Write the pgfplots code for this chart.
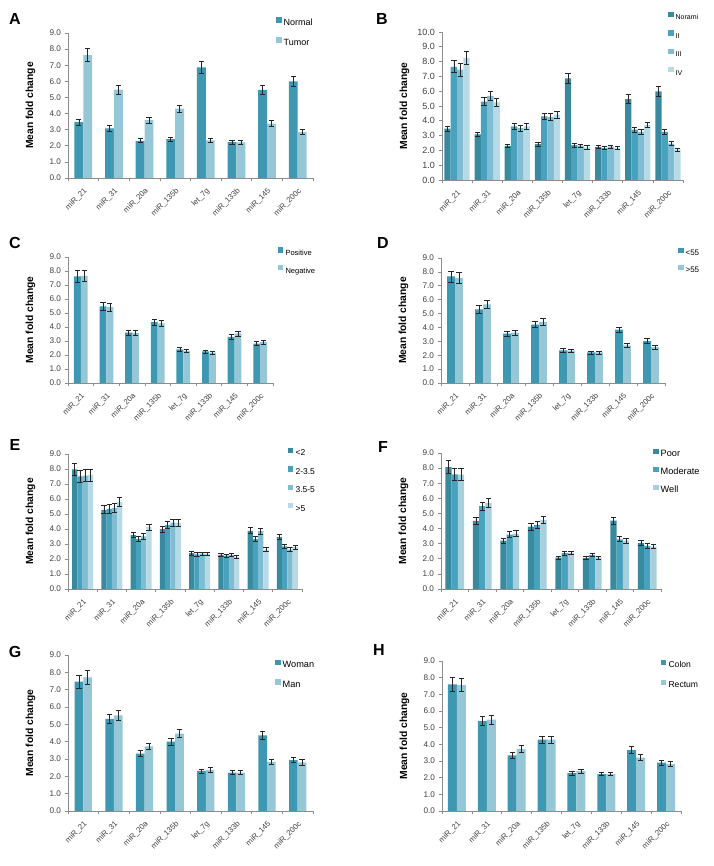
\documentclass[border=0pt]{standalone}
\usepackage{fontspec}
\setmainfont{Liberation Sans}
\usepackage{pgfplots}
\pgfplotsset{compat=1.18}
\definecolor{axgray}{HTML}{8C8C8C}
\definecolor{txgray}{HTML}{404040}
\definecolor{errc}{HTML}{262626}
\definecolor{tA}{HTML}{3F98B1}
\definecolor{tB}{HTML}{95C7D7}
\definecolor{q1}{HTML}{3A8A9F}
\definecolor{q2}{HTML}{48A2BD}
\definecolor{q3}{HTML}{80BDD2}
\definecolor{q4}{HTML}{B6DAE6}
\definecolor{w3}{HTML}{A6D0DE}
\newcommand{\fs}[1]{\fontsize{#1}{#1}\selectfont}
\pgfplotsset{
 panel/.style={
   scale only axis, ybar=0pt, ymin=0, xmin=-0.5, xmax=7.5,
   axis x line*=bottom, axis y line*=left,
   axis line style={draw=axgray, line width=0.7pt},
   tick align=outside, major tick length=3.5pt,
   tick style={draw=axgray, line width=0.7pt},
   xtick={-0.5,0.5,1.5,2.5,3.5,4.5,5.5,6.5,7.5},
   x tick label as interval,
   xticklabels={miR\_21,miR\_31,miR\_20a,miR\_135b,let\_7g,miR\_133b,miR\_145,miR\_200c},
   xticklabel style={xshift=3pt, yshift=-8pt, rotate=45, anchor=east, inner sep=0.5pt, font=\fs{7.8}, text=txgray},
   ytick distance=1,
   /pgf/number format/assume math mode=true,
   yticklabel style={/pgf/number format/.cd, fixed, fixed zerofill, precision=1, /tikz/.cd, font=\fs{8.2}, text=txgray},
   ylabel={Mean fold change},
   every axis y label/.style={at={(axis description cs:0,0.5)}, rotate=90, anchor=south, yshift=32.5pt, inner sep=0pt, font=\bfseries\fs{10.3}},
   legend image code/.code={\fill[##1] (0pt,0pt) rectangle (5.5pt,5.5pt);},
   legend cell align=left,
   legend style={draw=none, fill=none, inner sep=0pt, outer sep=0pt, anchor=west,
     nodes={inner sep=0.6pt, text height=0.72em, text depth=0.2em},
     /tikz/every odd column/.append style={column sep=1.5pt}},
   error bars/y dir=both, error bars/y explicit,
   error bars/error bar style={draw=errc, line width=0.7pt},
   error bars/error mark options={draw=errc, line width=0.7pt, mark size=2.6pt, rotate=90},
 }
}
\begin{document}
\begin{tikzpicture}
\useasboundingbox (0pt,0pt) rectangle (713pt,866pt);
% ---------------- A
\begin{axis}[panel, at={(68pt,688pt)}, anchor=south west, width=245pt, height=145pt, ymax=9, bar width=0.29,
  legend style={at={(axis description cs:0.849,1.003)}, font=\fs{9}, row sep=9.5pt}]
\addplot[fill=tA, draw=none] coordinates {(0,3.47)+-(0,0.18) (1,3.08)+-(0,0.16) (2,2.31)+-(0,0.12) (3,2.42)+-(0,0.13) (4,6.86)+-(0,0.36) (5,2.23)+-(0,0.12) (6,5.47)+-(0,0.29) (7,5.99)+-(0,0.31)};
\addplot[fill=tB, draw=none] coordinates {(0,7.63)+-(0,0.4) (1,5.48)+-(0,0.28) (2,3.6)+-(0,0.19) (3,4.3)+-(0,0.22) (4,2.33)+-(0,0.12) (5,2.21)+-(0,0.12) (6,3.37)+-(0,0.18) (7,2.85)+-(0,0.15)};
\legend{Normal,Tumor}
\end{axis}
% ---------------- B
\begin{axis}[panel, at={(442pt,686pt)}, anchor=south west, width=241pt, height=148pt, ymax=10, bar width=0.21,
  yticklabel style={font=\fs{9}},
  legend style={at={(axis description cs:0.938,0.914)}, font=\fs{7}, row sep=7.7pt}]
\addplot[fill=q1, draw=none] coordinates {(0,3.47)+-(0,0.18) (1,3.08)+-(0,0.16) (2,2.31)+-(0,0.12) (3,2.42)+-(0,0.13) (4,6.86)+-(0,0.36) (5,2.23)+-(0,0.12) (6,5.47)+-(0,0.29) (7,5.99)+-(0,0.31)};
\addplot[fill=q2, draw=none] coordinates {(0,7.65)+-(0,0.4) (1,5.3)+-(0,0.28) (2,3.62)+-(0,0.19) (3,4.3)+-(0,0.22) (4,2.35)+-(0,0.12) (5,2.15)+-(0,0.11) (6,3.4)+-(0,0.18) (7,3.25)+-(0,0.17)};
\addplot[fill=q3, draw=none] coordinates {(0,7.45)+-(0,0.45) (1,5.68)+-(0,0.29) (2,3.5)+-(0,0.18) (3,4.25)+-(0,0.22) (4,2.32)+-(0,0.12) (5,2.25)+-(0,0.11) (6,3.25)+-(0,0.17) (7,2.45)+-(0,0.13)};
\addplot[fill=q4, draw=none] coordinates {(0,8.25)+-(0,0.43) (1,5.25)+-(0,0.28) (2,3.62)+-(0,0.2) (3,4.42)+-(0,0.23) (4,2.2)+-(0,0.12) (5,2.15)+-(0,0.11) (6,3.72)+-(0,0.19) (7,2.05)+-(0,0.1)};
\legend{Norami,II,III,IV}
\end{axis}
% ---------------- C
\begin{axis}[panel, at={(68pt,483pt)}, anchor=south west, width=205pt, height=126pt, ymax=9, bar width=0.27,
  legend style={at={(axis description cs:1.024,0.964)}, font=\fs{7.5}, row sep=6.9pt}]
\addplot[fill=tA, draw=none] coordinates {(0,7.62)+-(0,0.4) (1,5.48)+-(0,0.28) (2,3.6)+-(0,0.19) (3,4.35)+-(0,0.22) (4,2.4)+-(0,0.12) (5,2.25)+-(0,0.11) (6,3.3)+-(0,0.17) (7,2.82)+-(0,0.15)};
\addplot[fill=tB, draw=none] coordinates {(0,7.65)+-(0,0.4) (1,5.42)+-(0,0.28) (2,3.58)+-(0,0.19) (3,4.25)+-(0,0.22) (4,2.28)+-(0,0.12) (5,2.17)+-(0,0.11) (6,3.54)+-(0,0.18) (7,2.93)+-(0,0.15)};
\legend{Positive,Negative}
\end{axis}
% ---------------- D
\begin{axis}[panel, at={(441pt,483pt)}, anchor=south west, width=224pt, height=125pt, ymax=9, bar width=0.28,
  legend style={at={(axis description cs:1.058,0.972)}, font=\fs{8}, row sep=6.4pt}]
\addplot[fill=tA, draw=none] coordinates {(0,7.67)+-(0,0.4) (1,5.3)+-(0,0.28) (2,3.55)+-(0,0.18) (3,4.2)+-(0,0.22) (4,2.35)+-(0,0.12) (5,2.2)+-(0,0.11) (6,3.84)+-(0,0.2) (7,3.02)+-(0,0.16)};
\addplot[fill=tB, draw=none] coordinates {(0,7.55)+-(0,0.4) (1,5.66)+-(0,0.29) (2,3.62)+-(0,0.19) (3,4.39)+-(0,0.23) (4,2.33)+-(0,0.12) (5,2.2)+-(0,0.11) (6,2.71)+-(0,0.14) (7,2.59)+-(0,0.14)};
\legend{<55,>55}
\end{axis}
% ---------------- E
\begin{axis}[panel, at={(68pt,277pt)}, anchor=south west, width=234pt, height=135pt, ymax=9, bar width=0.18,
  legend style={at={(axis description cs:0.940,0.802)}, font=\fs{8.5}, row sep=7.7pt}]
\addplot[fill=q1, draw=none] coordinates {(0,7.98)+-(0,0.42) (1,5.28)+-(0,0.27) (2,3.61)+-(0,0.19) (3,3.99)+-(0,0.21) (4,2.39)+-(0,0.12) (5,2.28)+-(0,0.12) (6,3.88)+-(0,0.2) (7,3.46)+-(0,0.18)};
\addplot[fill=q2, draw=none] coordinates {(0,7.5)+-(0,0.4) (1,5.34)+-(0,0.28) (2,3.33)+-(0,0.17) (3,4.26)+-(0,0.22) (4,2.31)+-(0,0.12) (5,2.22)+-(0,0.11) (6,3.33)+-(0,0.17) (7,2.84)+-(0,0.15)};
\addplot[fill=q3, draw=none] coordinates {(0,7.56)+-(0,0.4) (1,5.41)+-(0,0.28) (2,3.5)+-(0,0.18) (3,4.43)+-(0,0.23) (4,2.35)+-(0,0.12) (5,2.28)+-(0,0.12) (6,3.86)+-(0,0.2) (7,2.62)+-(0,0.14)};
\addplot[fill=q4, draw=none] coordinates {(0,7.6)+-(0,0.4) (1,5.81)+-(0,0.3) (2,4.12)+-(0,0.21) (3,4.43)+-(0,0.23) (4,2.35)+-(0,0.12) (5,2.13)+-(0,0.11) (6,2.62)+-(0,0.14) (7,2.79)+-(0,0.15)};
\legend{<2,2-3.5,3.5-5,>5}
\end{axis}
% ---------------- F
\begin{axis}[panel, at={(441pt,277pt)}, anchor=south west, width=220pt, height=136pt, ymax=9, bar width=0.23,
  legend style={at={(axis description cs:0.964,0.860)}, font=\fs{9.2}, row sep=7.3pt}]
\addplot[fill=q1, draw=none] coordinates {(0,8.07)+-(0,0.42) (1,4.5)+-(0,0.23) (2,3.2)+-(0,0.17) (3,4.12)+-(0,0.21) (4,2.08)+-(0,0.11) (5,2.04)+-(0,0.11) (6,4.52)+-(0,0.23) (7,3.03)+-(0,0.16)};
\addplot[fill=q2, draw=none] coordinates {(0,7.59)+-(0,0.4) (1,5.48)+-(0,0.28) (2,3.6)+-(0,0.19) (3,4.25)+-(0,0.22) (4,2.37)+-(0,0.12) (5,2.26)+-(0,0.12) (6,3.29)+-(0,0.17) (7,2.85)+-(0,0.15)};
\addplot[fill=w3, draw=none] coordinates {(0,7.57)+-(0,0.4) (1,5.7)+-(0,0.3) (2,3.66)+-(0,0.19) (3,4.56)+-(0,0.24) (4,2.39)+-(0,0.12) (5,2.08)+-(0,0.11) (6,3.2)+-(0,0.17) (7,2.81)+-(0,0.15)};
\legend{Poor,Moderate,Well}
\end{axis}
% ---------------- G
\begin{axis}[panel, at={(68pt,55pt)}, anchor=south west, width=245pt, height=156pt, ymax=9, bar width=0.28,
  legend style={at={(axis description cs:0.845,0.872)}, font=\fs{9.2}, row sep=8.8pt}]
\addplot[fill=tA, draw=none] coordinates {(0,7.46)+-(0,0.39) (1,5.31)+-(0,0.28) (2,3.31)+-(0,0.17) (3,4.0)+-(0,0.21) (4,2.31)+-(0,0.12) (5,2.21)+-(0,0.11) (6,4.37)+-(0,0.23) (7,2.94)+-(0,0.15)};
\addplot[fill=tB, draw=none] coordinates {(0,7.71)+-(0,0.4) (1,5.52)+-(0,0.29) (2,3.73)+-(0,0.19) (3,4.46)+-(0,0.23) (4,2.37)+-(0,0.12) (5,2.21)+-(0,0.11) (6,2.83)+-(0,0.15) (7,2.81)+-(0,0.15)};
\legend{Woman,Man}
\end{axis}
% ---------------- H
\begin{axis}[panel, at={(442pt,55pt)}, anchor=south west, width=239pt, height=150pt, ymax=9, bar width=0.3,
  legend style={at={(axis description cs:0.916,0.907)}, font=\fs{8.6}, row sep=9.4pt}]
\addplot[fill=tA, draw=none] coordinates {(0,7.6)+-(0,0.4) (1,5.4)+-(0,0.28) (2,3.34)+-(0,0.17) (3,4.28)+-(0,0.22) (4,2.28)+-(0,0.12) (5,2.22)+-(0,0.11) (6,3.66)+-(0,0.19) (7,2.9)+-(0,0.15)};
\addplot[fill=tB, draw=none] coordinates {(0,7.56)+-(0,0.4) (1,5.48)+-(0,0.28) (2,3.72)+-(0,0.19) (3,4.28)+-(0,0.22) (4,2.4)+-(0,0.12) (5,2.22)+-(0,0.11) (6,3.2)+-(0,0.17) (7,2.82)+-(0,0.15)};
\legend{Colon,Rectum}
\end{axis}
% panel letters
\node[font=\bfseries\fs{16}] at (15pt,847pt) {A};
\node[font=\bfseries\fs{16}] at (382pt,847pt) {B};
\node[font=\bfseries\fs{16}] at (15pt,623pt) {C};
\node[font=\bfseries\fs{16}] at (383pt,623pt) {D};
\node[font=\bfseries\fs{16}] at (15pt,421pt) {E};
\node[font=\bfseries\fs{16}] at (383pt,419pt) {F};
\node[font=\bfseries\fs{16}] at (15pt,214pt) {G};
\node[font=\bfseries\fs{16}] at (379pt,216pt) {H};
\end{tikzpicture}
\end{document}
